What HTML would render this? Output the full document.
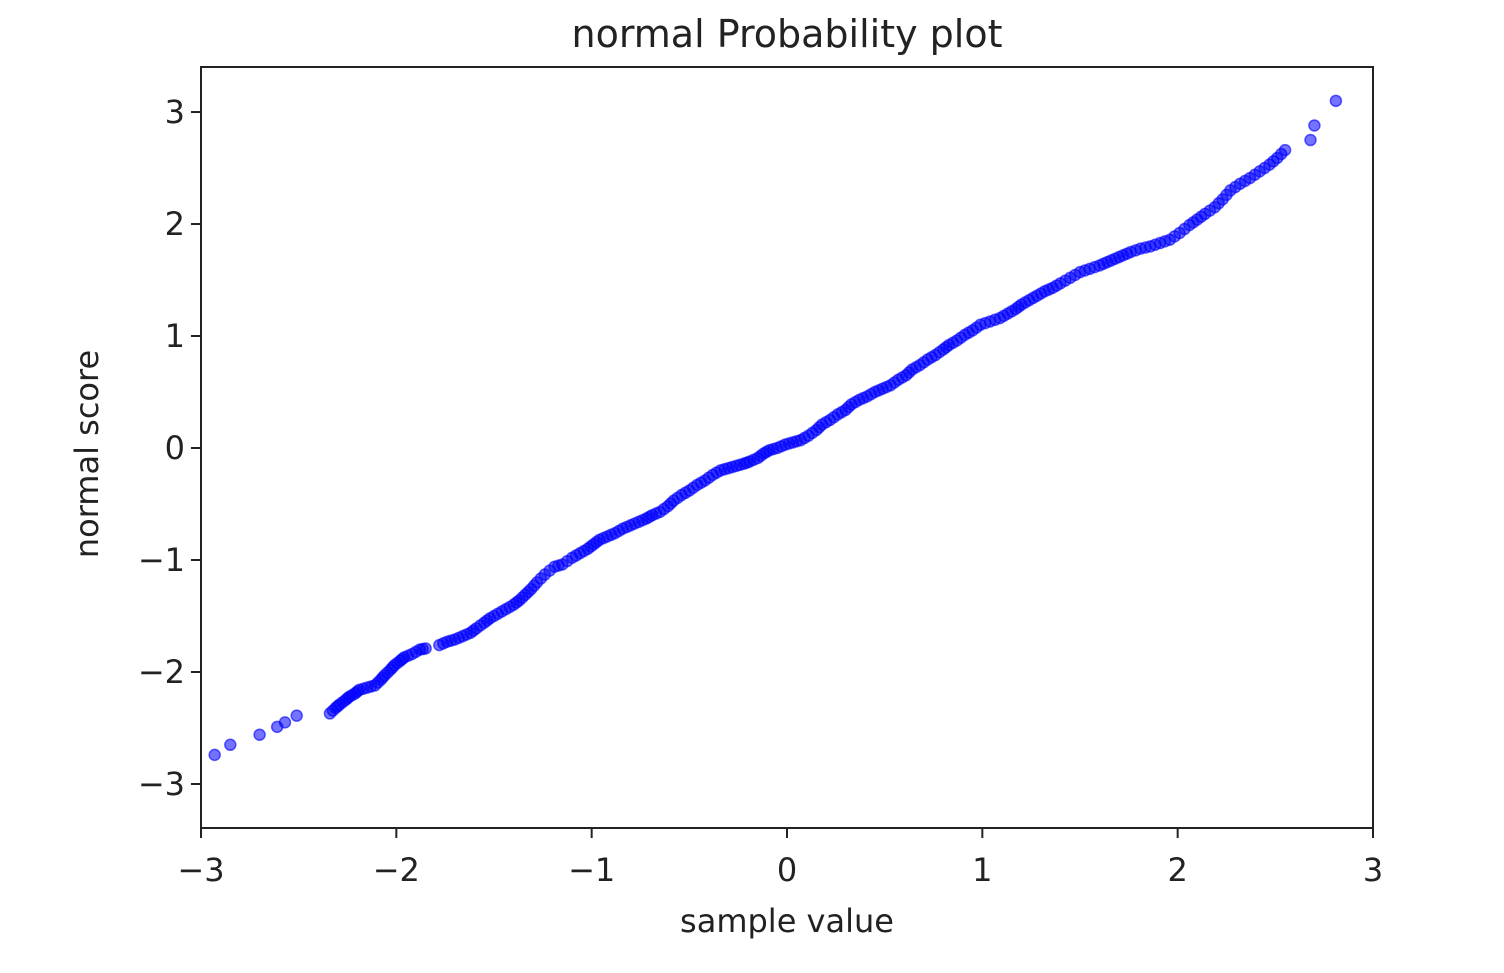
<!DOCTYPE html>
<html><head><meta charset="utf-8"><style>
html,body{margin:0;padding:0;background:#fff;}
svg text{font-family:"DejaVu Sans","Liberation Sans",sans-serif;fill:#222;}
</style></head><body>
<svg id="chart" width="1504" height="968" viewBox="0 0 1504 968" xmlns="http://www.w3.org/2000/svg">
<text x="787" y="47" font-size="38" text-anchor="middle">normal Probability plot</text>
<text x="787" y="932" font-size="32" text-anchor="middle">sample value</text>
<text transform="translate(98,454) rotate(-90)" font-size="32" text-anchor="middle">normal score</text>
<g id="ticks"></g>
<g id="points"></g>
<rect x="201" y="67" width="1172" height="761" fill="none" stroke="#222" stroke-width="2"/>
</svg>
<script>
const xTicks=[-3,-2,-1,0,1,2,3];
const yTicks=[-3,-2,-1,0,1,2,3];
const sampleValues=[-2.93,-2.85,-2.70,-2.61,-2.57,-2.51,
-2.34,-2.31,-2.29,-2.26,-2.24,-2.21,-2.19,-2.15,-2.11,-2.08,-2.06,-2.03,-2.01,-1.98,-1.96,-1.92,-1.88,-1.85,
-1.78,-1.74,-1.70,-1.66,-1.62,-1.59,-1.55,-1.52,-1.48,-1.44,-1.40,-1.37,-1.34,-1.31,-1.28,-1.24,-1.19,-1.15,-1.10,-1.06,-1.02,-0.99,-0.96,-0.92,-0.88,-0.84,-0.80,-0.76,-0.72,-0.69,-0.65,-0.61,-0.58,-0.54,-0.50,-0.46,-0.42,-0.38,-0.34,-0.30,-0.26,-0.22,-0.19,-0.15,-0.12,-0.09,-0.05,-0.01,
0.03,0.07,0.11,0.15,0.18,0.22,0.26,0.30,0.33,0.37,0.41,0.45,0.49,0.53,0.57,0.61,0.64,0.68,0.72,0.76,0.80,0.83,0.87,0.91,0.95,0.99,1.04,1.09,1.13,1.17,1.20,1.24,1.28,1.32,1.36,1.40,1.45,1.50,1.55,1.60,1.64,1.68,1.72,1.76,1.81,1.86,1.91,1.96,2.01,2.06,2.10,2.14,2.19,2.23,2.27,2.32,2.37,2.42,2.47,2.51,2.55,
2.68,2.70,2.81];
const normalScores=[-2.74,-2.65,-2.56,-2.49,-2.45,-2.39,
-2.37,-2.32,-2.29,-2.25,-2.22,-2.19,-2.16,-2.14,-2.12,-2.07,-2.03,-1.98,-1.94,-1.90,-1.87,-1.84,-1.80,-1.79,
-1.76,-1.73,-1.71,-1.68,-1.65,-1.61,-1.56,-1.52,-1.48,-1.44,-1.40,-1.36,-1.31,-1.26,-1.20,-1.13,-1.06,-1.04,-0.98,-0.94,-0.90,-0.86,-0.82,-0.79,-0.76,-0.72,-0.69,-0.66,-0.63,-0.60,-0.57,-0.52,-0.47,-0.42,-0.38,-0.33,-0.29,-0.24,-0.20,-0.18,-0.16,-0.14,-0.12,-0.09,-0.05,-0.02,0.00,0.03,
0.05,0.07,0.11,0.16,0.21,0.25,0.30,0.34,0.39,0.43,0.46,0.50,0.53,0.56,0.61,0.65,0.70,0.74,0.79,0.83,0.88,0.92,0.96,1.01,1.05,1.10,1.13,1.16,1.20,1.24,1.28,1.32,1.36,1.40,1.43,1.47,1.52,1.57,1.60,1.63,1.66,1.69,1.72,1.75,1.78,1.80,1.83,1.86,1.92,1.99,2.04,2.09,2.15,2.22,2.30,2.36,2.41,2.47,2.53,2.59,2.66,
2.75,2.88,3.10];
const denseSampleValues=[-2.325,-2.30,-2.275,-2.25,-2.225,-2.20,-2.17,-2.13,-2.095,-2.07,-2.045,-2.02,-1.995,-1.97,-1.94,-1.90,-1.865,
-1.76,-1.72,-1.68,-1.64,-1.605,-1.57,-1.535,-1.50,-1.46,-1.42,-1.385,-1.355,-1.325,-1.295,-1.26,-1.215,-1.17,-1.125,-1.08,-1.04,
-1.005,-0.975,-0.94,-0.90,-0.86,-0.82,-0.78,-0.74,-0.705,-0.67,-0.63,-0.595,-0.56,-0.52,-0.48,-0.44,-0.40,-0.36,-0.32,-0.28,
-0.24,-0.205,-0.17,-0.135,-0.105,-0.07,-0.03,0.01,0.05,0.09,0.13,0.165,0.20,0.24,0.28,0.315,0.35,0.39,0.43,0.47,
0.51,0.55,0.59,0.625,0.66,0.70,0.74,0.78,0.815,0.85,0.89,0.93,0.97,1.015,1.065,1.11,1.15,1.185,1.22,1.26,
1.30,1.34,1.38,1.425,1.475,1.525,1.575,1.62,1.66,1.70,1.74,1.785,1.835,1.885,1.935,1.985,2.035,2.08,2.12,2.165,
2.21,2.25,2.295,2.345,2.395,2.445,2.49,2.53];
const denseNormalScores=[-2.345,-2.305,-2.27,-2.235,-2.205,-2.175,-2.15,-2.13,-2.095,-2.05,-2.005,-1.96,-1.92,-1.885,-1.855,-1.82,-1.795,
-1.745,-1.72,-1.695,-1.665,-1.63,-1.585,-1.54,-1.50,-1.46,-1.42,-1.38,-1.335,-1.285,-1.23,-1.165,-1.095,-1.05,-1.01,-0.96,-0.92,
-0.88,-0.84,-0.805,-0.775,-0.74,-0.705,-0.675,-0.645,-0.615,-0.585,-0.545,-0.495,-0.445,-0.40,-0.355,-0.31,-0.265,-0.22,-0.19,-0.17,
-0.15,-0.13,-0.105,-0.07,-0.035,-0.01,0.015,0.04,0.06,0.09,0.135,0.185,0.23,0.275,0.32,0.365,0.41,0.445,0.48,0.515,
0.545,0.585,0.63,0.675,0.72,0.765,0.81,0.855,0.90,0.94,0.985,1.03,1.075,1.115,1.145,1.18,1.22,1.26,1.30,1.34,
1.38,1.415,1.45,1.495,1.545,1.585,1.615,1.645,1.675,1.705,1.735,1.765,1.79,1.815,1.845,1.89,1.955,2.015,2.065,2.12,
2.185,2.26,2.33,2.385,2.44,2.50,2.56,2.625];
const NS="http://www.w3.org/2000/svg";
const X0=201,X1=1373,Y0=828,Y1=67;
const xMin=-3,xMax=3,yMin=-3.393,yMax=3.402;
function sx(v){return X0+(v-xMin)/(xMax-xMin)*(X1-X0);}
function sy(v){return Y0-(v-yMin)/(yMax-yMin)*(Y0-Y1);}
function fmt(v){return v<0?"\u2212"+Math.abs(v):String(v);}
const tg=document.getElementById('ticks');
xTicks.forEach(t=>{
  const l=document.createElementNS(NS,'line');
  l.setAttribute('x1',sx(t));l.setAttribute('x2',sx(t));l.setAttribute('y1',Y0);l.setAttribute('y2',Y0+10);
  l.setAttribute('stroke','#222');l.setAttribute('stroke-width','2');
  
  
  tg.appendChild(l);
  const tx=document.createElementNS(NS,'text');
  tx.setAttribute('x',sx(t));tx.setAttribute('y',Y0+53);tx.setAttribute('font-size','32');tx.setAttribute('text-anchor','middle');
  tx.textContent=fmt(t);
  
  
  tg.appendChild(tx);
});
yTicks.forEach(t=>{
  const l=document.createElementNS(NS,'line');
  l.setAttribute('x1',X0-10);l.setAttribute('x2',X0);l.setAttribute('y1',sy(t));l.setAttribute('y2',sy(t));
  l.setAttribute('stroke','#222');l.setAttribute('stroke-width','2');
  
  
  tg.appendChild(l);
  const tx=document.createElementNS(NS,'text');
  tx.setAttribute('x',X0-16);tx.setAttribute('y',sy(t)+11);tx.setAttribute('font-size','32');tx.setAttribute('text-anchor','end');
  tx.textContent=fmt(t);
  
  
  tg.appendChild(tx);
});
const pg=document.getElementById('points');
function addPoint(x,y){
  const c=document.createElementNS(NS,'circle');
  c.setAttribute('cx',sx(x));c.setAttribute('cy',sy(y));c.setAttribute('r','5.5');
  c.setAttribute('fill','#0000ff');c.setAttribute('fill-opacity','0.55');
  c.setAttribute('stroke','#0000ff');c.setAttribute('stroke-opacity','0.6');c.setAttribute('stroke-width','1.5');
  
  
  pg.appendChild(c);
}
sampleValues.forEach((v,i)=>addPoint(v,normalScores[i]));
denseSampleValues.forEach((v,i)=>addPoint(v,denseNormalScores[i]));
</script>
</body></html>
